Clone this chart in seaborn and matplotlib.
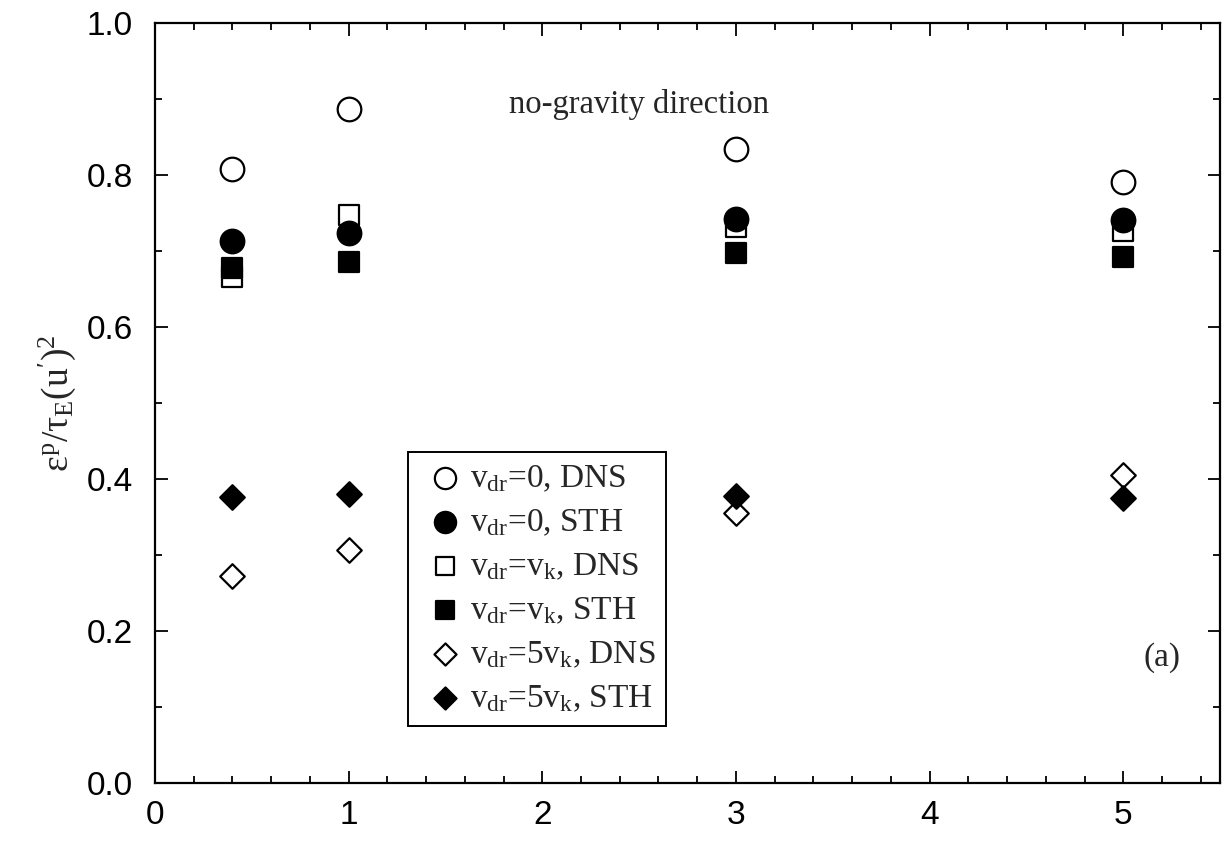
import matplotlib
matplotlib.use("Agg")
import matplotlib.pyplot as plt
import seaborn as sns
import pandas as pd
from matplotlib.ticker import MultipleLocator

# ---- data ----
x_vals = [0.4, 1, 3, 5]
dns_v0 = [0.808, 0.886, 0.834, 0.790]
sth_v0 = [0.713, 0.724, 0.742, 0.741]
dns_vk = [0.665, 0.747, 0.732, 0.726]
sth_vk = [0.677, 0.686, 0.697, 0.692]
dns_5vk = [0.272, 0.307, 0.355, 0.405]
sth_5vk = [0.376, 0.380, 0.377, 0.375]

labels = [r"v$_{\mathrm{dr}}$=0, DNS", r"v$_{\mathrm{dr}}$=0, STH",
          r"v$_{\mathrm{dr}}$=v$_{\mathrm{k}}$, DNS", r"v$_{\mathrm{dr}}$=v$_{\mathrm{k}}$, STH",
          r"v$_{\mathrm{dr}}$=5v$_{\mathrm{k}}$, DNS", r"v$_{\mathrm{dr}}$=5v$_{\mathrm{k}}$, STH"]
xticks = [0, 1, 2, 3, 4, 5]
yticks = [0.0, 0.2, 0.4, 0.6, 0.8, 1.0]

sns.set_style("ticks")
plt.rcParams['font.family'] = ['Liberation Sans', 'DejaVu Sans']
plt.rcParams['mathtext.fontset'] = 'custom'
plt.rcParams['mathtext.rm'] = 'Liberation Serif'
plt.rcParams['mathtext.it'] = 'Liberation Serif:italic'

fig = plt.figure(figsize=(12.25, 8.46), dpi=100)
ax = fig.add_axes([0.1265, 0.0745, 0.8695, 0.8985])

series = [
    (dns_v0, 'o', 'white', 17, 3),
    (sth_v0, 'o', 'black', 17, 3),
    (dns_vk, 's', 'white', 15, 2),
    (sth_vk, 's', 'black', 15, 3),
    (dns_5vk, 'D', 'white', 12.5, 3),
    (sth_5vk, 'D', 'black', 12.5, 3),
]
for (vals, mk, fc, ms, z), lab in zip(series, labels):
    df = pd.DataFrame({'x': x_vals, 'y': vals})
    sns.scatterplot(data=df, x='x', y='y', marker=mk, s=ms**2, facecolor=fc,
                    edgecolor='black', linewidth=1.6, label=lab, zorder=z, ax=ax)

ax.set_xlim(0, 5.5)
ax.set_ylim(0, 1.0)
ax.set_xticks(xticks)
ax.set_yticks(yticks)
ax.set_xticklabels([str(t) for t in xticks])
ax.set_yticklabels([f"{t:.1f}" for t in yticks])
ax.xaxis.set_minor_locator(MultipleLocator(0.2))
ax.yaxis.set_minor_locator(MultipleLocator(0.1))
ax.tick_params(which='both', direction='in', top=True, right=True, width=1.3, colors='black')
ax.tick_params(which='major', length=9, labelsize=24)
ax.tick_params(axis='y', which='major', pad=16)
ax.tick_params(axis='x', which='major', pad=12)
ax.tick_params(which='minor', length=5)
for sp in ax.spines.values():
    sp.set_visible(True)
    sp.set_linewidth(1.6)
    sp.set_color('black')

ax.set_xlabel('')
ax.set_ylabel(r"$\mathrm{\varepsilon}^{\mathrm{p}}/\mathrm{\tau}_{\mathrm{E}}(\mathrm{u'})^{2}$",
              fontsize=27, labelpad=6)

ax.text(2.5, 0.893, "no-gravity direction", family='Liberation Serif', fontsize=23.5,
        ha='center', va='center')
ax.text(5.2, 0.165, "(a)", family='Liberation Serif', fontsize=24, ha='center', va='center')

leg = ax.legend(loc='upper left', bbox_to_anchor=(0.2376, 0.0, 0.2424, 0.4355),
                mode='expand', frameon=True, fancybox=False, framealpha=1,
                edgecolor='black', prop={'family': 'Liberation Serif', 'size': 24},
                handletextpad=0.0, handlelength=1.5, borderpad=0.35, labelspacing=0.4,
                borderaxespad=0, markerscale=0.9)
leg.get_frame().set_linewidth(1.4)

fig.savefig("out.png", dpi=100, facecolor='white')
